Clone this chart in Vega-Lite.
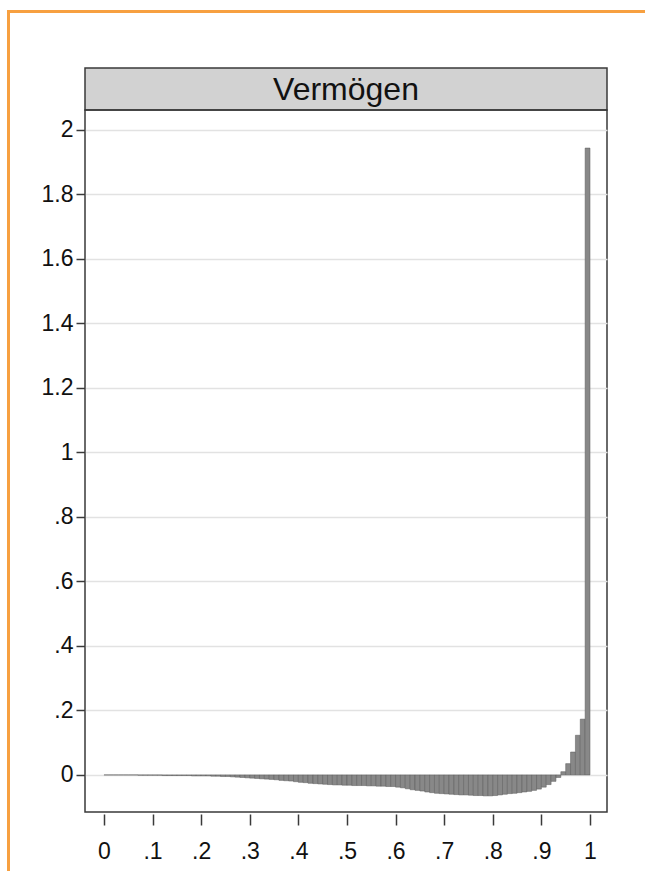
{
  "$schema": "https://vega.github.io/schema/vega-lite/v6.json",
  "padding": {"left": 7, "top": 10, "right": 0, "bottom": 0},
  "background": "white",
  "datasets": {
    "bars": [
      {"p": 0.005, "v": 0}, {"p": 0.015, "v": 0}, {"p": 0.025, "v": 0}, {"p": 0.035, "v": 0}, {"p": 0.045, "v": 0},
      {"p": 0.055, "v": 0}, {"p": 0.065, "v": 0}, {"p": 0.075, "v": -0.001}, {"p": 0.085, "v": -0.001}, {"p": 0.095, "v": -0.001},
      {"p": 0.105, "v": -0.001}, {"p": 0.115, "v": -0.001}, {"p": 0.125, "v": -0.002}, {"p": 0.135, "v": -0.002}, {"p": 0.145, "v": -0.002},
      {"p": 0.155, "v": -0.002}, {"p": 0.165, "v": -0.002}, {"p": 0.175, "v": -0.002}, {"p": 0.185, "v": -0.003}, {"p": 0.195, "v": -0.003},
      {"p": 0.205, "v": -0.003}, {"p": 0.215, "v": -0.003}, {"p": 0.225, "v": -0.004}, {"p": 0.235, "v": -0.004}, {"p": 0.245, "v": -0.005},
      {"p": 0.255, "v": -0.005}, {"p": 0.265, "v": -0.006}, {"p": 0.275, "v": -0.007}, {"p": 0.285, "v": -0.008}, {"p": 0.295, "v": -0.009},
      {"p": 0.305, "v": -0.010}, {"p": 0.315, "v": -0.011}, {"p": 0.325, "v": -0.012}, {"p": 0.335, "v": -0.013}, {"p": 0.345, "v": -0.014},
      {"p": 0.355, "v": -0.015}, {"p": 0.365, "v": -0.017}, {"p": 0.375, "v": -0.018}, {"p": 0.385, "v": -0.019}, {"p": 0.395, "v": -0.021},
      {"p": 0.405, "v": -0.023}, {"p": 0.415, "v": -0.024}, {"p": 0.425, "v": -0.026}, {"p": 0.435, "v": -0.027}, {"p": 0.445, "v": -0.028},
      {"p": 0.455, "v": -0.029}, {"p": 0.465, "v": -0.030}, {"p": 0.475, "v": -0.031}, {"p": 0.485, "v": -0.031}, {"p": 0.495, "v": -0.032},
      {"p": 0.505, "v": -0.032}, {"p": 0.515, "v": -0.033}, {"p": 0.525, "v": -0.033}, {"p": 0.535, "v": -0.033}, {"p": 0.545, "v": -0.034},
      {"p": 0.555, "v": -0.034}, {"p": 0.565, "v": -0.035}, {"p": 0.575, "v": -0.035}, {"p": 0.585, "v": -0.036}, {"p": 0.595, "v": -0.036},
      {"p": 0.605, "v": -0.038}, {"p": 0.615, "v": -0.040}, {"p": 0.625, "v": -0.043}, {"p": 0.635, "v": -0.046}, {"p": 0.645, "v": -0.048},
      {"p": 0.655, "v": -0.050}, {"p": 0.665, "v": -0.053}, {"p": 0.675, "v": -0.055}, {"p": 0.685, "v": -0.057}, {"p": 0.695, "v": -0.058},
      {"p": 0.705, "v": -0.059}, {"p": 0.715, "v": -0.060}, {"p": 0.725, "v": -0.061}, {"p": 0.735, "v": -0.062}, {"p": 0.745, "v": -0.062},
      {"p": 0.755, "v": -0.063}, {"p": 0.765, "v": -0.064}, {"p": 0.775, "v": -0.064}, {"p": 0.785, "v": -0.065}, {"p": 0.795, "v": -0.065},
      {"p": 0.805, "v": -0.064}, {"p": 0.815, "v": -0.062}, {"p": 0.825, "v": -0.060}, {"p": 0.835, "v": -0.058}, {"p": 0.845, "v": -0.057},
      {"p": 0.855, "v": -0.055}, {"p": 0.865, "v": -0.053}, {"p": 0.875, "v": -0.051}, {"p": 0.885, "v": -0.048}, {"p": 0.895, "v": -0.044},
      {"p": 0.905, "v": -0.038}, {"p": 0.915, "v": -0.030}, {"p": 0.925, "v": -0.020}, {"p": 0.935, "v": -0.008}, {"p": 0.945, "v": 0.010},
      {"p": 0.955, "v": 0.035}, {"p": 0.965, "v": 0.071}, {"p": 0.975, "v": 0.123}, {"p": 0.985, "v": 0.173}, {"p": 0.995, "v": 1.944}
    ]
  },
  "vconcat": [
    {
      "width": 638, "height": 3,
      "view": {"fill": "#F7A040", "stroke": null},
      "data": {"values": []},
      "mark": {"type": "text", "text": ""}
    },
    {
      "hconcat": [
        {
          "width": 3, "height": 858,
          "view": {"fill": "#F7A040", "stroke": null},
          "data": {"values": []},
          "mark": {"type": "text", "text": ""}
        },
        {
          "vconcat": [
            {
              "width": 522, "height": 55,
              "view": {"stroke": null},
              "data": {"values": []},
              "mark": {"type": "text", "text": ""}
            },
            {
              "width": 522, "height": 42,
              "view": {"fill": "#d2d2d2", "stroke": "#3a3a3a", "strokeWidth": 1.5},
              "data": {"values": [{"label": "Vermögen"}]},
              "mark": {"type": "text", "font": "Liberation Sans", "fontSize": 32, "color": "#111111", "baseline": "middle", "align": "center", "dy": 1},
              "encoding": {"text": {"field": "label", "type": "nominal"}}
            },
            {
              "width": 522, "height": 702,
              "view": {"stroke": "#3a3a3a", "strokeWidth": 1.5},
              "layer": [
                {
                  "mark": {"type": "rule", "color": "#3a3a3a", "strokeWidth": 1.5},
                  "encoding": {"y": {"datum": 0, "type": "quantitative"}}
                },
                {
                  "data": {"name": "bars"},
                  "mark": {"type": "bar", "width": 4.86, "fill": "#888888", "stroke": "#5a5a5a", "strokeWidth": 0.5},
                  "encoding": {
                    "x": {
                      "field": "p", "type": "quantitative",
                      "scale": {"domain": [-0.039, 1.035], "nice": false, "zero": false, "padding": 0},
                      "axis": {
                        "title": null, "values": [0, 0.1, 0.2, 0.3, 0.4, 0.5, 0.6, 0.7, 0.8, 0.9, 1],
                        "labelExpr": "datum.value > 0 && datum.value < 1 ? slice(format(datum.value, '.1f'), 1) : format(datum.value, '.1~f')",
                        "grid": false, "domain": false, "ticks": true, "tickSize": 11, "tickWidth": 1.5, "tickColor": "#3a3a3a",
                        "labelFont": "Liberation Sans", "labelFontSize": 23, "labelColor": "#111111", "labelPadding": 15, "offset": 2
                      }
                    },
                    "y": {
                      "field": "v", "type": "quantitative",
                      "scale": {"domain": [-0.115, 2.062], "nice": false, "zero": false, "padding": 0},
                      "axis": {
                        "title": null, "values": [0, 0.2, 0.4, 0.6, 0.8, 1, 1.2, 1.4, 1.6, 1.8, 2],
                        "labelExpr": "datum.value > 0 && datum.value < 1 ? slice(format(datum.value, '.1f'), 1) : format(datum.value, '.1~f')",
                        "grid": true, "gridColor": "#e2e2e2", "gridWidth": 1.5,
                        "domain": false, "ticks": true, "tickSize": 9, "tickWidth": 1.5, "tickColor": "#3a3a3a",
                        "labelFont": "Liberation Sans", "labelFontSize": 23, "labelColor": "#111111", "labelPadding": 3
                      }
                    },
                    "y2": {"datum": 0}
                  }
                }
              ]
            }
          ],
          "spacing": 0,
          "bounds": "flush"
        }
      ],
      "spacing": 75,
      "bounds": "flush"
    }
  ],
  "spacing": 0,
  "bounds": "flush"
}
